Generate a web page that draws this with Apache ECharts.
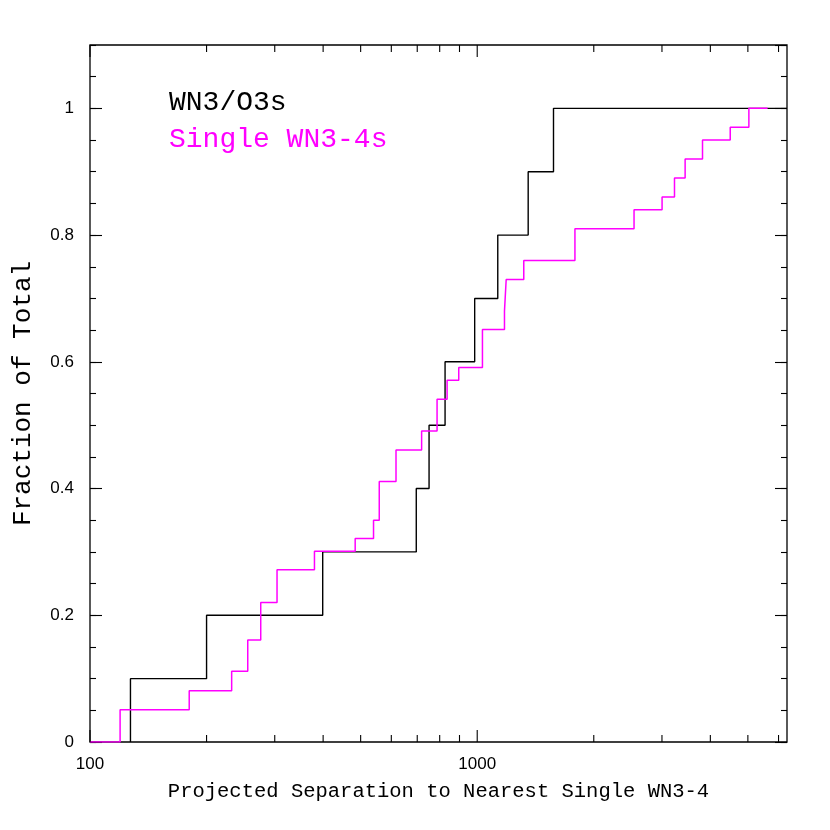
<!DOCTYPE html>
<html>
<head>
<meta charset="utf-8">
<script src="https://cdn.jsdelivr.net/npm/echarts@6/dist/echarts.min.js"></script>
<style>
html,body{margin:0;padding:0;background:#fff;}
#chart{width:830px;height:830px;}
</style>
</head>
<body>
<div id="chart"></div>
<script>
// ---- data ----
const xMin = 100;
const xMax = 6310;
const yMin = 0;
const yMax = 1.1;

// WN3/O3s cumulative distribution: separation where each step occurs, and level after step
const wnO3Start = 127.2;
const wnO3StepX = [127.2, 200, 399, 696, 751, 826, 985, 1130, 1354, 1574];
const wnO3StepY = [0.1, 0.2, 0.3, 0.4, 0.5, 0.6, 0.7, 0.8, 0.9, 1.0];
const wnO3End = 6310;

// Single WN3-4s cumulative distribution
const singleStart = 100;
const singleStepX = [119.6, 180.4, 232.2, 255.5, 276, 304.1, 379.9, 484, 539.8, 558.5, 617, 718.5, 787.6, 836, 896,
                     1031.6, 1176, 1188, 1319, 1788, 2541, 3002, 3232, 3443, 3818, 4502, 5030];
const singleStepY = [0.051, 0.081, 0.1115, 0.161, 0.220, 0.272, 0.301, 0.321, 0.350, 0.411, 0.461, 0.491, 0.541, 0.571, 0.591,
                     0.651, 0.680, 0.730, 0.760, 0.810, 0.840, 0.860, 0.890, 0.920, 0.950, 0.970, 1.0];
const singleEnd = 5623;

// axis ticks
const xMajorTicks = [100, 1000];
const xMinorTicks = [200, 300, 400, 500, 600, 700, 800, 900, 2000, 3000, 4000, 5000, 6000];
const yLabelTicks = [0, 0.2, 0.4, 0.6, 0.8, 1];

const seriesNames = ['WN3/O3s', 'Single WN3-4s'];
const xTitle = 'Projected Separation to Nearest Single WN3-4';
const yTitle = 'Fraction of Total';

// ---- build step data ----
function buildSteps(start, xs, ys, end) {
  const pts = [[start, 0]];
  for (let i = 0; i < xs.length; i++) pts.push([xs[i], ys[i]]);
  pts.push([end, ys[ys.length - 1]]);
  return pts;
}
const wnO3Data = buildSteps(wnO3Start, wnO3StepX, wnO3StepY, wnO3End);
const singleData = buildSteps(singleStart, singleStepX, singleStepY, singleEnd);

const xTickData = xMajorTicks.map(v => [v, 12]).concat(xMinorTicks.map(v => [v, 7]));

const chart = echarts.init(document.getElementById('chart'), null, {renderer: 'canvas'});

const labelFont = {fontFamily: 'Liberation Sans', fontSize: 17, color: '#000'};

function yAxisDef(position, interval, tickLen, showLabel, extra) {
  return Object.assign({
    type: 'value', position: position, min: yMin, max: yMax, interval: interval, offset: 0,
    axisLine: {show: false},
    axisTick: {show: true, inside: true, length: tickLen, lineStyle: {color: '#000', width: 1.1}},
    axisLabel: showLabel ? Object.assign({
      show: true, margin: 16, showMaxLabel: false,
      formatter: function (v) {
        const r = Math.round(v * 100) / 100;
        return yLabelTicks.some(t => Math.abs(t - r) < 1e-6) ? String(r) : '';
      }
    }, labelFont) : {show: false},
    splitLine: {show: false}
  }, extra || {});
}

const option = {
  backgroundColor: '#fff',
  animation: false,
  grid: {left: 90, right: 43, top: 45, bottom: 88, containLabel: false, outerBoundsMode: 'none',
         show: true, borderColor: '#000', borderWidth: 1.3, backgroundColor: 'transparent'},
  legend: {
    orient: 'vertical', left: 159, top: 84, icon: 'none', itemWidth: 0, itemGap: 9,
    selectedMode: false,
    textStyle: {fontFamily: 'Liberation Mono', fontSize: 28},
    data: [
      {name: seriesNames[0], textStyle: {color: '#000'}},
      {name: seriesNames[1], textStyle: {color: '#ff00ff'}}
    ]
  },
  xAxis: [
    {
      type: 'log', logBase: 10, min: xMin, max: xMax, position: 'bottom',
      name: xTitle, nameLocation: 'middle', nameGap: 39,
      nameTextStyle: {fontFamily: 'Liberation Mono', fontSize: 20.5, color: '#000'},
      axisLine: {show: false},
      axisTick: {show: false},
      axisLabel: Object.assign({
        show: true, margin: 14, showMaxLabel: false,
        formatter: function (v) { return xMajorTicks.indexOf(Math.round(v)) >= 0 ? String(Math.round(v)) : ''; }
      }, labelFont),
      splitLine: {show: false}, minorTick: {show: false}
    }
  ],
  yAxis: [
    yAxisDef('left', 0.2, 12, true, {
      name: yTitle, nameLocation: 'middle', nameGap: 54, nameRotate: 90,
      nameTextStyle: {fontFamily: 'Liberation Mono', fontSize: 26, color: '#000'}
    }),
    yAxisDef('left', 0.05, 6, false),
    yAxisDef('right', 0.2, 12, false),
    yAxisDef('right', 0.05, 6, false)
  ],
  series: [
    {
      name: seriesNames[0], type: 'line', step: 'end', data: wnO3Data,
      xAxisIndex: 0, yAxisIndex: 0, symbol: 'none', z: 3,
      lineStyle: {color: '#000', width: 1.4}, itemStyle: {color: '#000'}
    },
    {
      name: seriesNames[1], type: 'line', step: 'end', data: singleData,
      xAxisIndex: 0, yAxisIndex: 0, symbol: 'none', z: 4,
      lineStyle: {color: '#ff00ff', width: 1.5}, itemStyle: {color: '#ff00ff'}
    },
    {
      name: 'xTicks', type: 'custom', xAxisIndex: 0, yAxisIndex: 0, silent: true, z: 5,
      data: xTickData,
      encode: {x: 0},
      renderItem: function (params, api) {
        const v = api.value(0);
        const len = api.value(1);
        const b = api.coord([v, yMin]);
        const t = api.coord([v, yMax]);
        const style = {stroke: '#000', lineWidth: 1.1};
        return {
          type: 'group',
          children: [
            {type: 'line', shape: {x1: b[0], y1: b[1], x2: b[0], y2: b[1] - len}, style: style},
            {type: 'line', shape: {x1: t[0], y1: t[1], x2: t[0], y2: t[1] + len}, style: style}
          ]
        };
      }
    }
  ]
};
chart.setOption(option);
</script>
</body>
</html>
